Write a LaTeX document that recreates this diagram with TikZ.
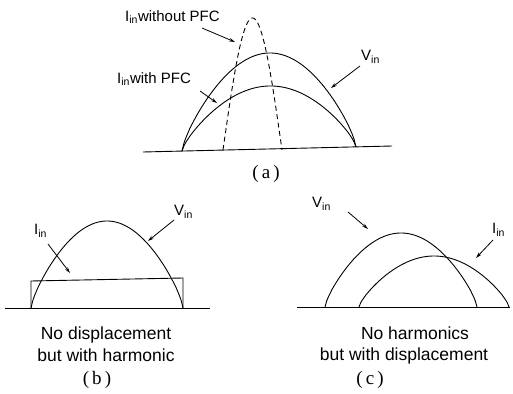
\documentclass[tikz,border=0pt]{standalone}
\usepackage{fontspec}
\setmainfont{Liberation Serif}
\setsansfont{Liberation Sans}
\usetikzlibrary{arrows.meta}

\begin{document}
\begin{tikzpicture}[
    x=1pt, y=-1pt,
    curve/.style={line width=0.9pt},
    axis/.style={line width=0.9pt},
    lbl/.style={font=\sffamily\fontsize{15}{17}\selectfont, inner sep=1pt, anchor=west},
    note/.style={font=\sffamily\fontsize{17.5}{22}\selectfont, align=center, inner sep=0pt},
    caption/.style={font=\rmfamily\fontsize{19}{21}\selectfont, inner sep=0pt},
    arr/.style={-{Stealth[length=6pt,width=3.5pt]}, line width=0.8pt},
]
\useasboundingbox (0,0) rectangle (513,393);

% (a) with and without PFC
\draw[axis] (143,152) -- (392,146);
\draw[curve] plot[domain=0:180, samples=90] ({182+\x/180*174},{151-\x/180*4-96*abs(sin(\x))^0.75});
\draw[curve] plot[domain=0:180, samples=90] ({182+\x/180*174},{151-\x/180*4-63*abs(sin(\x))^0.75});
\draw[curve, dashed, dash pattern=on 5pt off 3.5pt] plot[domain=0:180, samples=80] ({223+\x/180*59},{150-132*sin(\x)});

\node[lbl] (woPFC) at (124,17) {I\textsubscript{in}without PFC};
\node[lbl] (wPFC) at (116,79) {I\textsubscript{in}with PFC};
\node[lbl] (vinA) at (360,57) {V\textsubscript{in}};
\coordinate (woTip) at (235,42);
\coordinate (wTip) at (217,103);
\coordinate (vinATip) at (331,88);
\draw[arr] (202,28) -- (woTip);
\draw[arr] (200,91) -- (wTip);
\draw[arr] (360,66) -- (vinATip);
\node[caption] (capA) at (266,174) {(\,a\,)};

% (b) no displacement
\draw[axis] (5,308) -- (210,308);
\draw[curve] (31,308) -- (31,281) -- (183,278) -- (183,308);
\draw[curve] plot[domain=0:180, samples=90] ({31+\x/180*152},{308-87*abs(sin(\x))^0.75});
\node[lbl] (vinB) at (173,212) {V\textsubscript{in}};
\node[lbl] (iinB) at (33,231) {I\textsubscript{in}};
\coordinate (vinBTip) at (148,241);
\coordinate (iinBTip) at (70,273);
\draw[arr] (174,220) -- (vinBTip);
\draw[arr] (48,244) -- (iinBTip);
\node[note] (noteB) at (106,344) {No displacement\\but with harmonic};
\node[caption] (capB) at (97,380) {(\,b\,)};

% (c) no harmonics
\draw[axis] (297,307) -- (510,307);
\draw[curve] plot[domain=0:180, samples=90] ({325+\x/180*152},{307-74*abs(sin(\x))^0.75});
\draw[curve] plot[domain=0:180, samples=90] ({359+\x/180*150},{307-51*abs(sin(\x))^0.75});
\node[lbl] (vinC) at (311,204) {V\textsubscript{in}};
\node[lbl] (iinC) at (491,230) {I\textsubscript{in}};
\coordinate (vinCTip) at (368,229);
\coordinate (iinCTip) at (476,258);
\draw[arr] (348,212) -- (vinCTip);
\draw[arr] (493,240) -- (iinCTip);
\node[note] (noteC1) at (415,333) {No harmonics};
\node[note] (noteC2) at (404,356) {but with displacement};
\node[caption] (capC) at (370,380) {(\,c\,)};

\end{tikzpicture}
\end{document}
